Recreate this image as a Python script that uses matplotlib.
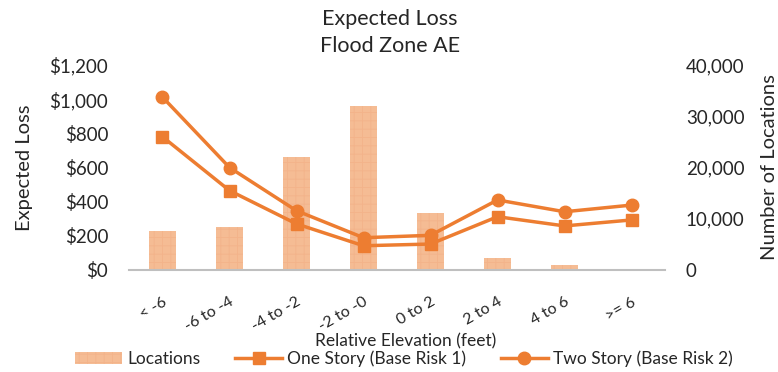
import matplotlib.pyplot as plt
from matplotlib.ticker import FuncFormatter
from matplotlib.transforms import ScaledTranslation

plt.rcParams['font.family'] = ['Lato', 'DejaVu Sans']
plt.rcParams['hatch.linewidth'] = 0.6

categories = ['< -6', '-6 to -4', '-4 to -2', '-2 to -0', '0 to 2', '2 to 4', '4 to 6', '>= 6']
locations = [7600, 8400, 22000, 32000, 11100, 2400, 900, 0]
one_story = [780, 465, 270, 142, 152, 312, 258, 293]
two_story = [1012, 600, 347, 189, 203, 410, 341, 380]

orange = '#ED7D31'
bar_col = '#F5BC94'
text_col = '#262626'

fig = plt.figure(figsize=(7.78, 3.72), dpi=100)
ax = fig.add_axes([0.1658, 0.2742, 0.689, 0.551])
ax2 = ax.twinx()

x = range(len(categories))

# bars on the secondary axis, lines on the primary
ax2.bar(x, locations, width=0.39, color=bar_col, edgecolor='#F3B38A',
        hatch='++', linewidth=0, label='Locations', zorder=1)
ax.set_zorder(ax2.get_zorder() + 1)
ax.patch.set_visible(False)

ax.plot(x, one_story, color=orange, lw=2.5, marker='s', ms=8, label='One Story (Base Risk 1)')
ax.plot(x, two_story, color=orange, lw=2.5, marker='o', ms=9, label='Two Story (Base Risk 2)')

ax.set_xlim(-0.5, len(categories) - 0.5)
ax.set_ylim(0, 1200)
ax2.set_ylim(0, 40000)
ax.set_yticks(range(0, 1201, 200))
ax2.set_yticks(range(0, 40001, 10000))
ax.yaxis.set_major_formatter(FuncFormatter(lambda v, p: '${:,.0f}'.format(v)))
ax2.yaxis.set_major_formatter(FuncFormatter(lambda v, p: '{:,.0f}'.format(v)))

ax.set_xticks(list(x))
ax.set_xticklabels(categories, rotation=30, ha='right', va='top', rotation_mode='anchor',
                   fontsize=11.5, color=text_col)
shift = ScaledTranslation(-3 / 100, 0, fig.dpi_scale_trans)
for lab in ax.get_xticklabels():
    lab.set_transform(lab.get_transform() + shift)

for a in (ax, ax2):
    for s in a.spines.values():
        s.set_visible(False)
    a.tick_params(length=0, labelsize=13.5, labelcolor=text_col)
ax.spines['bottom'].set_visible(True)
ax.spines['bottom'].set_color('#BFBFBF')
ax.spines['bottom'].set_linewidth(1.5)
ax.tick_params(axis='x', pad=18, labelsize=11.5)
ax.tick_params(axis='y', pad=15)
ax2.tick_params(axis='y', pad=15)

ax.set_ylabel('Expected Loss', fontsize=14.5, color=text_col, labelpad=12)
ax2.set_ylabel('Number of Locations', fontsize=14.5, color=text_col, labelpad=12)
fig.text(406 / 778, 1 - 341 / 372, 'Relative Elevation (feet)', ha='center', va='center',
         fontsize=12.5, color=text_col)

fig.text(390 / 778, 1 - 19 / 372, 'Expected Loss', ha='center', va='center', fontsize=15.5, color=text_col)
fig.text(390 / 778, 1 - 46 / 372, 'Flood Zone AE', ha='center', va='center', fontsize=15.5, color=text_col)

h1, l1 = ax2.get_legend_handles_labels()
h2, l2 = ax.get_legend_handles_labels()
fig.legend(h1 + h2, l1 + l2, loc='center', bbox_to_anchor=(404 / 778, 1 - 359 / 372), ncol=3,
           frameon=False, fontsize=12.5, handlelength=2.7, columnspacing=2.0,
           handletextpad=0.3, labelcolor=text_col, borderpad=0)

fig.savefig('out.png', dpi=100)
